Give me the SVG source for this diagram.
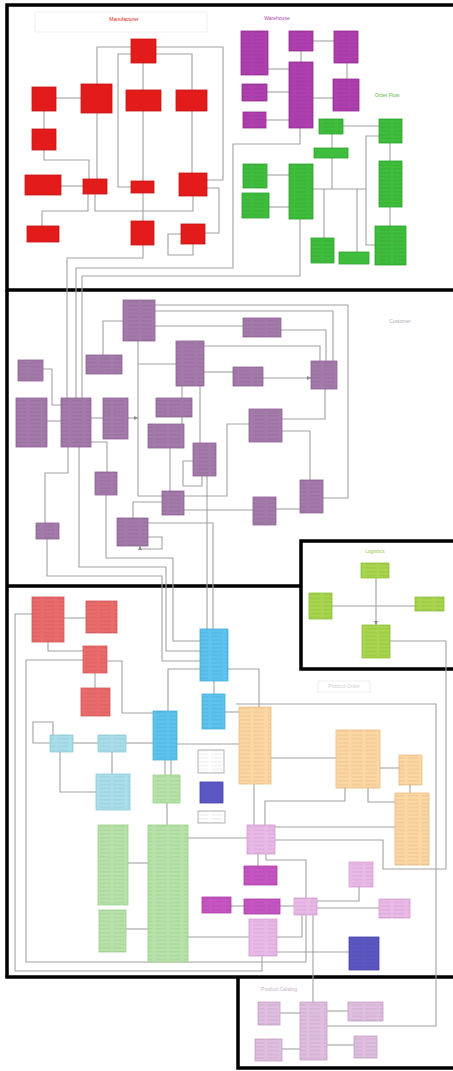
<svg xmlns="http://www.w3.org/2000/svg" width="453" height="1071" viewBox="0 0 453 1071">
<style>
.c{fill:none;stroke:#a2a2a2;stroke-width:1.1}
.f{fill:none;stroke:#000;stroke-width:3.5}
.n rect.b{stroke-width:0.8}
.n rect.s{fill:url(#st);stroke:none}
.red rect.b{fill:#e31b1b;stroke:#c41212}
.pur rect.b{fill:#ae3fae;stroke:#932b93}
.grn rect.b{fill:#3fbd3c;stroke:#2ea42c}
.mau rect.b{fill:#a47aaa;stroke:#8c6392}
.lim rect.b{fill:#a8d64e;stroke:#90c03a}
.sal rect.b{fill:#eb6b6b;stroke:#d35858}
.blu rect.b{fill:#5cc4ee;stroke:#46acd6}
.aqu rect.b{fill:#a9dfea;stroke:#8ccbd8}
.org rect.b{fill:#fdd7a2;stroke:#e9bd82}
.pnk rect.b{fill:#eab9e8;stroke:#d49fd2}
.mag rect.b{fill:#c655c3;stroke:#ab3ea8}
.dbl rect.b{fill:#5b57c2;stroke:#4542a8}
.lgr rect.b{fill:#b7e3a9;stroke:#9ccf8d}
.wht rect.b{fill:#fff;stroke:#a0a0a0}
.brm rect.b{fill:#dfbedf;stroke:#c4a0c4}
.t{font-family:"Liberation Sans",Arial,sans-serif;font-size:5px;text-anchor:middle}
</style>
<defs>
<pattern id="st" width="14" height="3.8" patternUnits="userSpaceOnUse">
<rect x="1.5" y="1.4" width="11" height="0.8" fill="#000" opacity="0.1"/>
</pattern>
<marker id="a" viewBox="0 0 6 6" refX="6" refY="3" markerWidth="4" markerHeight="4" orient="auto">
<path d="M0,0 L6,3 L0,6 z" fill="#8a8a8a"/>
</marker>
</defs>
<rect width="453" height="1071" fill="#fff"/>

<g id="frames">
<rect class="f" x="7" y="5" width="449" height="285"/>
<line class="f" x1="7" y1="290" x2="7" y2="977"/>
<line class="f" x1="7" y1="586" x2="301" y2="586"/>
<rect class="f" x="301" y="541" width="155" height="128"/>
<line class="f" x1="5.3" y1="977" x2="456" y2="977"/>
<polyline class="f" points="238,977 238,1068 456,1068"/>
</g>

<g id="labels">
<rect x="35" y="12" width="172" height="20" fill="none" stroke="#ececec" stroke-width="0.8"/>
<text class="t" x="124" y="21" fill="#e02020">Manufacturer</text>
<text class="t" x="277" y="20" fill="#b040b0">Warehouse</text>
<text class="t" x="387" y="97" fill="#5cbc3c">Order Flow</text>
<text class="t" x="400" y="323" fill="#b8a8b8">Customer</text>
<text class="t" x="375" y="553" fill="#a0c850">Logistics</text>
<rect x="318" y="681" width="52" height="11" fill="none" stroke="#ececec" stroke-width="0.8"/>
<text class="t" x="344" y="688" fill="#d0d0d0">Product Order</text>
<text class="t" x="279" y="991" fill="#c8b0c8">Product Catalog</text>
</g>

<g id="connectors">
<polyline class="c" points="97,84 97,47 223,47 223,180 207,180"/>
<polyline class="c" points="131,187 118,187 118,54 192,54 192,90"/>
<polyline class="c" points="143,63 143,90"/>
<polyline class="c" points="143,111 143,181"/>
<polyline class="c" points="143,193 143,221"/>
<polyline class="c" points="192,111 192,173"/>
<polyline class="c" points="56,98 81,98"/>
<polyline class="c" points="44,111 44,129"/>
<polyline class="c" points="44,150 44,160 89,160 89,179"/>
<polyline class="c" points="97,113 97,179"/>
<polyline class="c" points="61,186 83,186"/>
<polyline class="c" points="88,194 88,211 42,211 42,226"/>
<polyline class="c" points="95,194 95,211 193,211 193,196"/>
<polyline class="c" points="205,233 219,233 219,188 207,188"/>
<polyline class="c" points="181,234 168,234 168,255 193,255 193,244"/>
<polyline class="c" points="143,245 143,258 67,258 67,398"/>
<polyline class="c" points="300,128 300,144 233,144 233,268 76,268 76,398"/>
<polyline class="c" points="300,219 300,276 82,276 82,398"/>

<polyline class="c" points="313,41 334,41"/>
<polyline class="c" points="301,51 301,62"/>
<polyline class="c" points="347,63 347,79"/>
<polyline class="c" points="268,69 289,69"/>
<polyline class="c" points="313,98 333,98"/>
<polyline class="c" points="267,92 289,92"/>
<polyline class="c" points="266,120 289,120"/>

<polyline class="c" points="343,126 379,126"/>
<polyline class="c" points="332,134 332,148"/>
<polyline class="c" points="332,158 332,189"/>
<polyline class="c" points="313,189 366,189"/>
<polyline class="c" points="324,189 324,238"/>
<polyline class="c" points="357,189 357,252"/>
<polyline class="c" points="379,136 366,136 366,245 375,245"/>
<polyline class="c" points="390,143 390,161"/>
<polyline class="c" points="390,207 390,226"/>
<polyline class="c" points="267,175 289,175"/>
<polyline class="c" points="269,207 289,207"/>

<polyline class="c" points="155,305 348,305 348,498 323,498"/>
<polyline class="c" points="155,311 333,311 333,361"/>
<polyline class="c" points="155,326 243,326"/>
<polyline class="c" points="281,330 326,330 326,361"/>
<polyline class="c" points="204,346 320,346 320,361"/>
<polyline class="c" points="204,372 233,372"/>
<polyline class="c" points="263,378 311,378" marker-end="url(#a)"/>
<polyline class="c" points="325,389 325,419 282,419"/>
<polyline class="c" points="282,431 310,431 310,480"/>
<polyline class="c" points="249,424 227,424 227,496 184,496"/>
<polyline class="c" points="276,509 300,509"/>
<polyline class="c" points="184,510 253,510"/>
<polyline class="c" points="123,321 103,321 103,355"/>
<polyline class="c" points="138,341 138,496 162,496"/>
<polyline class="c" points="138,364 176,364"/>
<polyline class="c" points="128,418 138,418" marker-end="url(#a)"/>
<polyline class="c" points="43,369 52,369 52,405 61,405"/>
<polyline class="c" points="47,421 61,421"/>
<polyline class="c" points="91,418 103,418"/>
<polyline class="c" points="182,386 182,398"/>
<polyline class="c" points="182,417 182,424"/>
<polyline class="c" points="170,448 170,491"/>
<polyline class="c" points="200,386 200,443"/>
<polyline class="c" points="193,461 183,461 183,486 202,486 202,476"/>
<polyline class="c" points="207,476 207,629"/>
<polyline class="c" points="148,523 213,523 213,629"/>
<polyline class="c" points="148,537 162,537 162,549 140,549 140,546" marker-end="url(#a)"/>
<polyline class="c" points="68,447 68,473 45,473 45,523"/>
<polyline class="c" points="79,447 79,567 166,567 166,651 200,651"/>
<polyline class="c" points="91,442 107,442 107,472"/>
<polyline class="c" points="106,495 106,558 173,558 173,641 200,641"/>
<polyline class="c" points="47,539 47,576 162,576 162,661 200,661"/>
<polyline class="c" points="162,502 133,502 133,518"/>

<polyline class="c" points="64,618 86,618"/>
<polyline class="c" points="48,642 48,651 83,651"/>
<polyline class="c" points="95,673 95,688"/>
<polyline class="c" points="107,661 122,661 122,713 153,713"/>
<polyline class="c" points="32,614 15,614 15,971 262,971 262,956"/>
<polyline class="c" points="83,660 26,660 26,962 306,962 306,915"/>
<polyline class="c" points="50,743 33,743 33,722 53,722 53,735"/>
<polyline class="c" points="73,743 98,743"/>
<polyline class="c" points="126,743 153,743"/>
<polyline class="c" points="177,744 239,744"/>
<polyline class="c" points="60,752 60,792 96,792"/>
<polyline class="c" points="112,752 112,774"/>
<polyline class="c" points="165,760 165,775"/>
<polyline class="c" points="171,760 171,775"/>
<polyline class="c" points="200,669 168,669 168,711"/>
<polyline class="c" points="214,681 214,694"/>
<polyline class="c" points="228,669 259,669 259,707"/>
<polyline class="c" points="225,712 239,712"/>
<polyline class="c" points="236,704 436,704 436,1026 327,1026"/>
<polyline class="c" points="376,578 376,625" marker-end="url(#a)"/>
<polyline class="c" points="332,606 415,606"/>
<polyline class="c" points="390,641 446,641 446,869 383,869 383,840 275,840"/>
<polyline class="c" points="271,758 336,758"/>
<polyline class="c" points="380,768 399,768"/>
<polyline class="c" points="410,785 410,793"/>
<polyline class="c" points="368,788 368,802 395,802"/>
<polyline class="c" points="345,788 345,801 265,801 265,825"/>
<polyline class="c" points="254,784 254,825"/>
<polyline class="c" points="275,827 395,827"/>
<polyline class="c" points="258,854 258,866"/>
<polyline class="c" points="188,838 247,838"/>
<polyline class="c" points="266,854 266,860 306,860 306,898"/>
<polyline class="c" points="231,906 244,906"/>
<polyline class="c" points="280,906 294,906"/>
<polyline class="c" points="317,908 379,908"/>
<polyline class="c" points="317,901 359,901 359,887"/>
<polyline class="c" points="277,937 302,937 302,915"/>
<polyline class="c" points="277,952 349,952"/>
<polyline class="c" points="188,937 249,937"/>
<polyline class="c" points="313,915 313,1002"/>
<polyline class="c" points="167,803 167,825"/>
<polyline class="c" points="128,863 148,863"/>
<polyline class="c" points="126,929 148,929"/>
<polyline class="c" points="280,1013 300,1013"/>
<polyline class="c" points="327,1011 348,1011"/>
<polyline class="c" points="282,1049 300,1049"/>
<polyline class="c" points="327,1045 354,1045"/>
</g>

<g id="r1" class="n red"><rect class="b" x="131" y="39" width="25" height="24"/></g>
<g id="r2" class="n red"><rect class="b" x="32" y="87" width="24" height="24"/></g>
<g id="r3" class="n red"><rect class="b" x="81" y="84" width="31" height="29"/></g>
<g id="r4" class="n red"><rect class="b" x="126" y="90" width="35" height="21"/></g>
<g id="r5" class="n red"><rect class="b" x="176" y="90" width="31" height="21"/></g>
<g id="r6" class="n red"><rect class="b" x="32" y="129" width="24" height="21"/></g>
<g id="r7" class="n red"><rect class="b" x="25" y="175" width="36" height="20"/></g>
<g id="r8" class="n red"><rect class="b" x="83" y="179" width="24" height="15"/></g>
<g id="r9" class="n red"><rect class="b" x="131" y="181" width="23" height="12"/></g>
<g id="r10" class="n red"><rect class="b" x="179" y="173" width="28" height="23"/></g>
<g id="r11" class="n red"><rect class="b" x="27" y="226" width="32" height="16"/></g>
<g id="r12" class="n red"><rect class="b" x="131" y="221" width="23" height="24"/></g>
<g id="r13" class="n red"><rect class="b" x="181" y="224" width="24" height="20"/></g>

<g id="p1" class="n pur"><rect class="b" x="241" y="31" width="27" height="44"/><rect class="s" x="241" y="31" width="27" height="44"/></g>
<g id="p2" class="n pur"><rect class="b" x="289" y="31" width="24" height="20"/><rect class="s" x="289" y="31" width="24" height="20"/></g>
<g id="p3" class="n pur"><rect class="b" x="334" y="31" width="24" height="32"/><rect class="s" x="334" y="31" width="24" height="32"/></g>
<g id="p4" class="n pur"><rect class="b" x="289" y="62" width="24" height="66"/><rect class="s" x="289" y="62" width="24" height="66"/></g>
<g id="p5" class="n pur"><rect class="b" x="333" y="79" width="26" height="32"/><rect class="s" x="333" y="79" width="26" height="32"/></g>
<g id="p6" class="n pur"><rect class="b" x="242" y="84" width="25" height="17"/><rect class="s" x="242" y="84" width="25" height="17"/></g>
<g id="p7" class="n pur"><rect class="b" x="243" y="112" width="23" height="16"/><rect class="s" x="243" y="112" width="23" height="16"/></g>

<g id="g1" class="n grn"><rect class="b" x="319" y="119" width="24" height="15"/><rect class="s" x="319" y="119" width="24" height="15"/></g>
<g id="g2" class="n grn"><rect class="b" x="379" y="119" width="23" height="24"/><rect class="s" x="379" y="119" width="23" height="24"/></g>
<g id="g3" class="n grn"><rect class="b" x="314" y="148" width="34" height="10"/></g>
<g id="g4" class="n grn"><rect class="b" x="379" y="161" width="23" height="46"/><rect class="s" x="379" y="161" width="23" height="46"/></g>
<g id="g5" class="n grn"><rect class="b" x="243" y="164" width="24" height="24"/><rect class="s" x="243" y="164" width="24" height="24"/></g>
<g id="g6" class="n grn"><rect class="b" x="289" y="164" width="24" height="55"/><rect class="s" x="289" y="164" width="24" height="55"/></g>
<g id="g7" class="n grn"><rect class="b" x="242" y="193" width="27" height="25"/><rect class="s" x="242" y="193" width="27" height="25"/></g>
<g id="g8" class="n grn"><rect class="b" x="311" y="238" width="23" height="25"/><rect class="s" x="311" y="238" width="23" height="25"/></g>
<g id="g9" class="n grn"><rect class="b" x="339" y="252" width="30" height="12"/></g>
<g id="g10" class="n grn"><rect class="b" x="375" y="226" width="31" height="39"/><rect class="s" x="375" y="226" width="31" height="39"/></g>

<g id="m1" class="n mau"><rect class="b" x="123" y="300" width="32" height="41"/><rect class="s" x="123" y="300" width="32" height="41"/></g>
<g id="m2" class="n mau"><rect class="b" x="176" y="341" width="28" height="45"/><rect class="s" x="176" y="341" width="28" height="45"/></g>
<g id="m3" class="n mau"><rect class="b" x="86" y="355" width="36" height="19"/><rect class="s" x="86" y="355" width="36" height="19"/></g>
<g id="m4" class="n mau"><rect class="b" x="243" y="318" width="38" height="19"/><rect class="s" x="243" y="318" width="38" height="19"/></g>
<g id="m5" class="n mau"><rect class="b" x="18" y="360" width="25" height="21"/><rect class="s" x="18" y="360" width="25" height="21"/></g>
<g id="m6" class="n mau"><rect class="b" x="16" y="398" width="31" height="49"/><rect class="s" x="16" y="398" width="31" height="49"/></g>
<g id="m7" class="n mau"><rect class="b" x="61" y="398" width="30" height="49"/><rect class="s" x="61" y="398" width="30" height="49"/></g>
<g id="m8" class="n mau"><rect class="b" x="103" y="398" width="25" height="41"/><rect class="s" x="103" y="398" width="25" height="41"/></g>
<g id="m9" class="n mau"><rect class="b" x="156" y="398" width="36" height="19"/><rect class="s" x="156" y="398" width="36" height="19"/></g>
<g id="m10" class="n mau"><rect class="b" x="148" y="424" width="36" height="24"/><rect class="s" x="148" y="424" width="36" height="24"/></g>
<g id="m11" class="n mau"><rect class="b" x="193" y="443" width="23" height="33"/><rect class="s" x="193" y="443" width="23" height="33"/></g>
<g id="m12" class="n mau"><rect class="b" x="95" y="472" width="22" height="23"/><rect class="s" x="95" y="472" width="22" height="23"/></g>
<g id="m13" class="n mau"><rect class="b" x="162" y="491" width="22" height="24"/><rect class="s" x="162" y="491" width="22" height="24"/></g>
<g id="m14" class="n mau"><rect class="b" x="117" y="518" width="31" height="28"/><rect class="s" x="117" y="518" width="31" height="28"/></g>
<g id="m15" class="n mau"><rect class="b" x="36" y="523" width="23" height="16"/><rect class="s" x="36" y="523" width="23" height="16"/></g>
<g id="m16" class="n mau"><rect class="b" x="233" y="367" width="30" height="19"/><rect class="s" x="233" y="367" width="30" height="19"/></g>
<g id="m17" class="n mau"><rect class="b" x="311" y="361" width="26" height="28"/><rect class="s" x="311" y="361" width="26" height="28"/></g>
<g id="m18" class="n mau"><rect class="b" x="249" y="409" width="33" height="33"/><rect class="s" x="249" y="409" width="33" height="33"/></g>
<g id="m19" class="n mau"><rect class="b" x="300" y="480" width="23" height="33"/><rect class="s" x="300" y="480" width="23" height="33"/></g>
<g id="m20" class="n mau"><rect class="b" x="253" y="497" width="23" height="28"/><rect class="s" x="253" y="497" width="23" height="28"/></g>

<g id="l1" class="n lim"><rect class="b" x="361" y="563" width="28" height="15"/><rect class="s" x="361" y="563" width="28" height="15"/></g>
<g id="l2" class="n lim"><rect class="b" x="309" y="593" width="23" height="26"/><rect class="s" x="309" y="593" width="23" height="26"/></g>
<g id="l3" class="n lim"><rect class="b" x="415" y="597" width="29" height="14"/><rect class="s" x="415" y="597" width="29" height="14"/></g>
<g id="l4" class="n lim"><rect class="b" x="362" y="625" width="28" height="33"/><rect class="s" x="362" y="625" width="28" height="33"/></g>

<g id="s1" class="n sal"><rect class="b" x="32" y="597" width="32" height="45"/><rect class="s" x="32" y="597" width="32" height="45"/></g>
<g id="s2" class="n sal"><rect class="b" x="86" y="601" width="31" height="32"/><rect class="s" x="86" y="601" width="31" height="32"/></g>
<g id="s3" class="n sal"><rect class="b" x="83" y="646" width="24" height="27"/><rect class="s" x="83" y="646" width="24" height="27"/></g>
<g id="s4" class="n sal"><rect class="b" x="81" y="688" width="29" height="28"/><rect class="s" x="81" y="688" width="29" height="28"/></g>

<g id="b1" class="n blu"><rect class="b" x="200" y="629" width="28" height="52"/><rect class="s" x="200" y="629" width="28" height="52"/></g>
<g id="b2" class="n blu"><rect class="b" x="202" y="694" width="23" height="35"/><rect class="s" x="202" y="694" width="23" height="35"/></g>
<g id="b3" class="n blu"><rect class="b" x="153" y="711" width="24" height="49"/><rect class="s" x="153" y="711" width="24" height="49"/></g>
<g id="b4" class="n aqu"><rect class="b" x="50" y="735" width="23" height="17"/><rect class="s" x="50" y="735" width="23" height="17"/></g>
<g id="b5" class="n aqu"><rect class="b" x="98" y="735" width="28" height="17"/><rect class="s" x="98" y="735" width="28" height="17"/></g>
<g id="b6" class="n aqu"><rect class="b" x="96" y="774" width="34" height="36"/><rect class="s" x="96" y="774" width="34" height="36"/></g>

<g id="o1" class="n org"><rect class="b" x="239" y="707" width="32" height="77"/><rect class="s" x="239" y="707" width="32" height="77"/></g>
<g id="o2" class="n org"><rect class="b" x="336" y="730" width="44" height="58"/><rect class="s" x="336" y="730" width="44" height="58"/></g>
<g id="o3" class="n org"><rect class="b" x="399" y="755" width="23" height="30"/><rect class="s" x="399" y="755" width="23" height="30"/></g>
<g id="o4" class="n org"><rect class="b" x="395" y="793" width="34" height="72"/><rect class="s" x="395" y="793" width="34" height="72"/></g>

<g id="pk1" class="n pnk"><rect class="b" x="247" y="825" width="28" height="29"/><rect class="s" x="247" y="825" width="28" height="29"/></g>
<g id="pk2" class="n mag"><rect class="b" x="244" y="866" width="33" height="19"/><rect class="s" x="244" y="866" width="33" height="19"/></g>
<g id="pk3" class="n pnk"><rect class="b" x="349" y="862" width="24" height="25"/><rect class="s" x="349" y="862" width="24" height="25"/></g>
<g id="pk4" class="n mag"><rect class="b" x="244" y="899" width="36" height="15"/><rect class="s" x="244" y="899" width="36" height="15"/></g>
<g id="pk5" class="n pnk"><rect class="b" x="294" y="898" width="23" height="17"/><rect class="s" x="294" y="898" width="23" height="17"/></g>
<g id="pk6" class="n pnk"><rect class="b" x="249" y="919" width="28" height="37"/><rect class="s" x="249" y="919" width="28" height="37"/></g>
<g id="pk7" class="n pnk"><rect class="b" x="379" y="899" width="31" height="19"/><rect class="s" x="379" y="899" width="31" height="19"/></g>
<g id="pk8" class="n mag"><rect class="b" x="202" y="897" width="29" height="16"/><rect class="s" x="202" y="897" width="29" height="16"/></g>
<g id="db" class="n dbl"><rect class="b" x="349" y="937" width="30" height="33"/><rect class="s" x="349" y="937" width="30" height="33"/></g>

<g id="gr1" class="n lgr"><rect class="b" x="153" y="775" width="27" height="28"/><rect class="s" x="153" y="775" width="27" height="28"/></g>
<g id="gr2" class="n lgr"><rect class="b" x="148" y="825" width="40" height="137"/><rect class="s" x="148" y="825" width="40" height="137"/></g>
<g id="gr3" class="n lgr"><rect class="b" x="98" y="825" width="30" height="80"/><rect class="s" x="98" y="825" width="30" height="80"/></g>
<g id="gr4" class="n lgr"><rect class="b" x="99" y="910" width="27" height="42"/><rect class="s" x="99" y="910" width="27" height="42"/></g>

<g id="lg1" class="n wht"><rect class="b" x="198" y="750" width="26" height="23"/><rect class="s" x="198" y="750" width="26" height="23"/></g>
<g id="lg2" class="n dbl"><rect class="b" x="200" y="782" width="23" height="21"/></g>
<g id="lg3" class="n wht"><rect class="b" x="198" y="811" width="27" height="12"/><rect class="s" x="198" y="811" width="27" height="12"/></g>

<g id="br1" class="n brm"><rect class="b" x="258" y="1002" width="22" height="23"/><rect class="s" x="258" y="1002" width="22" height="23"/></g>
<g id="br2" class="n brm"><rect class="b" x="300" y="1002" width="27" height="58"/><rect class="s" x="300" y="1002" width="27" height="58"/></g>
<g id="br3" class="n brm"><rect class="b" x="348" y="1002" width="35" height="19"/><rect class="s" x="348" y="1002" width="35" height="19"/></g>
<g id="br4" class="n brm"><rect class="b" x="255" y="1039" width="27" height="22"/><rect class="s" x="255" y="1039" width="27" height="22"/></g>
<g id="br5" class="n brm"><rect class="b" x="354" y="1036" width="23" height="22"/><rect class="s" x="354" y="1036" width="23" height="22"/></g>
</svg>
